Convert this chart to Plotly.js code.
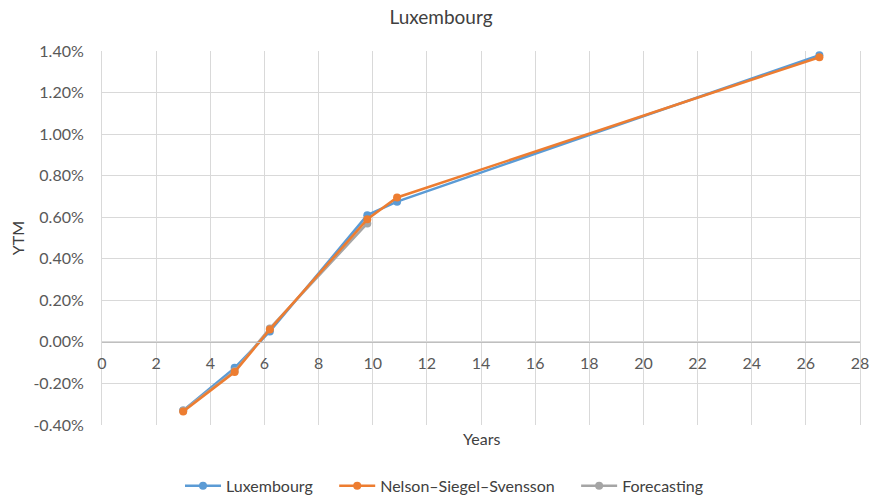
<!DOCTYPE html>
<html>
<head>
<meta charset="utf-8">
<script src="https://cdn.plot.ly/plotly-3.0.1.min.js"></script>
<style>html,body{margin:0;padding:0;background:#fff;}#chart{width:882px;height:501px;}</style>
</head>
<body>
<div id="chart"></div>
<script>
// Data (YTM in %)
const luxYears = [3.0, 4.9, 6.2, 9.8, 10.9, 26.5];
const luxYTM   = [-0.33, -0.125, 0.05, 0.61, 0.675, 1.38];

const nssYears = [3.0, 4.9, 6.2, 9.8, 10.9, 26.5];
const nssYTM   = [-0.335, -0.145, 0.06, 0.59, 0.695, 1.37];

const fcYears  = [3.0, 4.9, 6.2, 9.8];
const fcYTM    = [-0.33, -0.14, 0.065, 0.57];

const xTicks = [0, 2, 4, 6, 8, 10, 12, 14, 16, 18, 20, 22, 24, 26, 28];
const yTicks = [-0.4, -0.2, 0, 0.2, 0.4, 0.6, 0.8, 1.0, 1.2, 1.4];

const FONT = 'Lato, "Open Sans", sans-serif';
const yMin = -0.4, yMax = 1.4;
const NB = '\u00a0';

const mk = (x, y, name, color) => ({
  x: x, y: y, name: name, type: 'scatter', mode: 'lines+markers',
  line: {color: color, width: 2.5},
  marker: {color: color, size: 8}
});

const data = [
  mk(luxYears, luxYTM, 'Luxembourg' + NB.repeat(4), '#5B9BD5'),
  mk(fcYears, fcYTM, 'Forecasting', '#A5A5A5'),
  mk(nssYears, nssYTM, 'Nelson–Siegel–Svensson' + NB.repeat(4), '#ED7D31')
];
data[0].legendrank = 1; data[2].legendrank = 2; data[1].legendrank = 3;

const layout = {
  width: 882, height: 501,
  margin: {l: 102, r: 22, t: 51, b: 76, autoexpand: false},
  paper_bgcolor: '#ffffff', plot_bgcolor: '#ffffff',
  font: {family: FONT, size: 16, color: '#595959'},
  title: {text: 'Luxembourg', x: 0.5, xanchor: 'center', y: 0.965, yanchor: 'middle',
          font: {family: FONT, size: 19, color: '#404040'}},
  xaxis: {
    range: [0, 28], tickvals: xTicks, ticktext: xTicks.map(String),
    showgrid: true, gridcolor: '#d9d9d9', gridwidth: 1,
    zeroline: false, showline: true, linecolor: '#bfbfbf', linewidth: 1,
    anchor: 'free', position: (0 - yMin) / (yMax - yMin),
    ticks: '', ticklabelstandoff: 7,
    tickfont: {family: FONT, size: 16, color: '#595959'}
  },
  yaxis: {
    range: [yMin, yMax], tickvals: yTicks,
    ticktext: yTicks.map(v => v.toFixed(2) + '%'),
    showgrid: true, gridcolor: '#d9d9d9', gridwidth: 1,
    zeroline: false, showline: true, mirror: true, linecolor: '#d9d9d9', linewidth: 1,
    ticks: '', ticklabelstandoff: 14,
    tickfont: {family: FONT, size: 16, color: '#595959'},
    title: {text: 'YTM', standoff: 4, font: {family: FONT, size: 16, color: '#404040'}}
  },
  showlegend: true,
  legend: {orientation: 'h', x: (180 - 102) / 758, xanchor: 'left', y: -0.163, yanchor: 'middle',
           font: {family: FONT, size: 16, color: '#404040'}, traceorder: 'normal',
           itemwidth: 36},
  annotations: [{
    text: 'Years', xref: 'paper', yref: 'paper', x: 0.5, y: -0.035,
    xanchor: 'center', yanchor: 'middle', showarrow: false,
    font: {family: FONT, size: 16, color: '#404040'}
  }]
};

Plotly.newPlot('chart', data, layout, {displayModeBar: false, staticPlot: true});
</script>
</body>
</html>
